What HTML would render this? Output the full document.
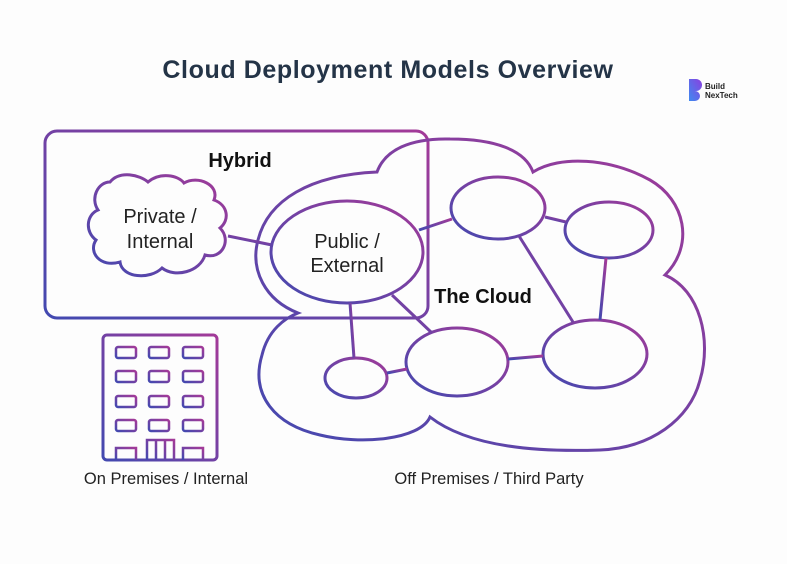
<!DOCTYPE html>
<html><head><meta charset="utf-8"><style>
body{margin:0;background:#fff;}
svg{display:block}
text{font-family:"Liberation Sans",sans-serif;}
</style></head><body>
<svg width="787" height="564" viewBox="0 0 787 564" xmlns="http://www.w3.org/2000/svg">
<defs>
<linearGradient id="g" x1="0" y1="1" x2="1" y2="0">
<stop offset="0" stop-color="#4249b0"/><stop offset="1" stop-color="#a33a98"/>
</linearGradient>
<linearGradient id="lg" x1="0" y1="1" x2="1" y2="0">
<stop offset="0" stop-color="#3f8af0"/><stop offset="1" stop-color="#8a3fe0"/>
</linearGradient>
</defs>
<rect width="787" height="564" fill="#fdfdfd"/>
<text x="388" y="78" text-anchor="middle" font-size="25" font-weight="bold" fill="#243447" letter-spacing="0.6">Cloud Deployment Models Overview</text>
<path d="M689 79 h7 a6 6 0 0 1 0 12 h-1 a5 5 0 0 1 0 10 h-6 z" fill="url(#lg)"/>
<text x="705" y="89" font-size="8" font-weight="bold" fill="#222">Build</text>
<text x="705" y="98" font-size="8" font-weight="bold" fill="#222">NexTech</text>

<g fill="none" stroke="url(#g)" stroke-width="3">
<rect x="45" y="131" width="383" height="187" rx="12"/>
<path d="M298 313 C265 300 250 270 258 240 C268 200 310 175 377 172 C385 150 410 138 450 139 C495 139 525 150 533 172 C560 155 610 158 650 180 C685 200 695 245 665 275 C700 290 712 340 700 380 C690 420 650 448 600 450 C540 452 470 448 430 417 C420 440 360 445 320 435 C275 425 250 395 262 355 C268 330 285 318 298 313 Z"/>
<path d="M110 182 C120 170 140 175 148 182 C160 172 178 175 184 183 C198 175 220 185 214 200 C228 205 230 220 220 228 C232 240 222 260 205 255 C200 272 175 278 162 268 C150 280 122 278 120 262 C100 268 88 252 96 240 C85 232 86 215 98 210 C90 198 98 182 110 182 Z"/>
<line x1="228" y1="236" x2="272" y2="245"/>
<ellipse cx="347" cy="252" rx="76" ry="51"/>
<ellipse cx="498" cy="208" rx="47" ry="31"/>
<ellipse cx="609" cy="230" rx="44" ry="28"/>
<ellipse cx="595" cy="354" rx="52" ry="34"/>
<ellipse cx="457" cy="362" rx="51" ry="34"/>
<ellipse cx="356" cy="378" rx="31" ry="20"/>
<line x1="419" y1="230" x2="452" y2="219"/>
<line x1="545" y1="217" x2="566" y2="222"/>
<line x1="519" y1="236" x2="573" y2="322"/>
<line x1="606" y1="258" x2="600" y2="320"/>
<line x1="508" y1="359" x2="543" y2="356"/>
<line x1="387" y1="373" x2="407" y2="369"/>
<line x1="350" y1="303" x2="354" y2="358"/>
<line x1="392" y1="295" x2="432" y2="333"/>
<rect x="103" y="335" width="114" height="125" rx="4"/>
</g>
<g fill="none" stroke="url(#g)" stroke-width="2.5">
<rect x="116" y="347" width="20" height="11" rx="2"/><rect x="149" y="347" width="20" height="11" rx="2"/><rect x="183" y="347" width="20" height="11" rx="2"/>
<rect x="116" y="371" width="20" height="11" rx="2"/><rect x="149" y="371" width="20" height="11" rx="2"/><rect x="183" y="371" width="20" height="11" rx="2"/>
<rect x="116" y="396" width="20" height="11" rx="2"/><rect x="149" y="396" width="20" height="11" rx="2"/><rect x="183" y="396" width="20" height="11" rx="2"/>
<rect x="116" y="420" width="20" height="11" rx="2"/><rect x="149" y="420" width="20" height="11" rx="2"/><rect x="183" y="420" width="20" height="11" rx="2"/>
<path d="M116 460 v-12 h20 v12"/><path d="M183 460 v-12 h20 v12"/>
<path d="M147 460 v-20 h27 v20 M156 440 v20 M165 440 v20"/>
</g>
<text x="240" y="167" text-anchor="middle" font-size="20" font-weight="bold" fill="#111">Hybrid</text>
<text x="160" y="223" text-anchor="middle" font-size="20" fill="#222">Private /</text>
<text x="160" y="248" text-anchor="middle" font-size="20" fill="#222">Internal</text>
<text x="347" y="248" text-anchor="middle" font-size="20" fill="#222">Public /</text>
<text x="347" y="272" text-anchor="middle" font-size="20" fill="#222">External</text>
<text x="483" y="303" text-anchor="middle" font-size="20" font-weight="bold" fill="#111">The Cloud</text>
<text x="166" y="484" text-anchor="middle" font-size="16.5" fill="#222">On Premises / Internal</text>
<text x="489" y="484" text-anchor="middle" font-size="16.5" fill="#222">Off Premises / Third Party</text>
</svg>
</body></html>
